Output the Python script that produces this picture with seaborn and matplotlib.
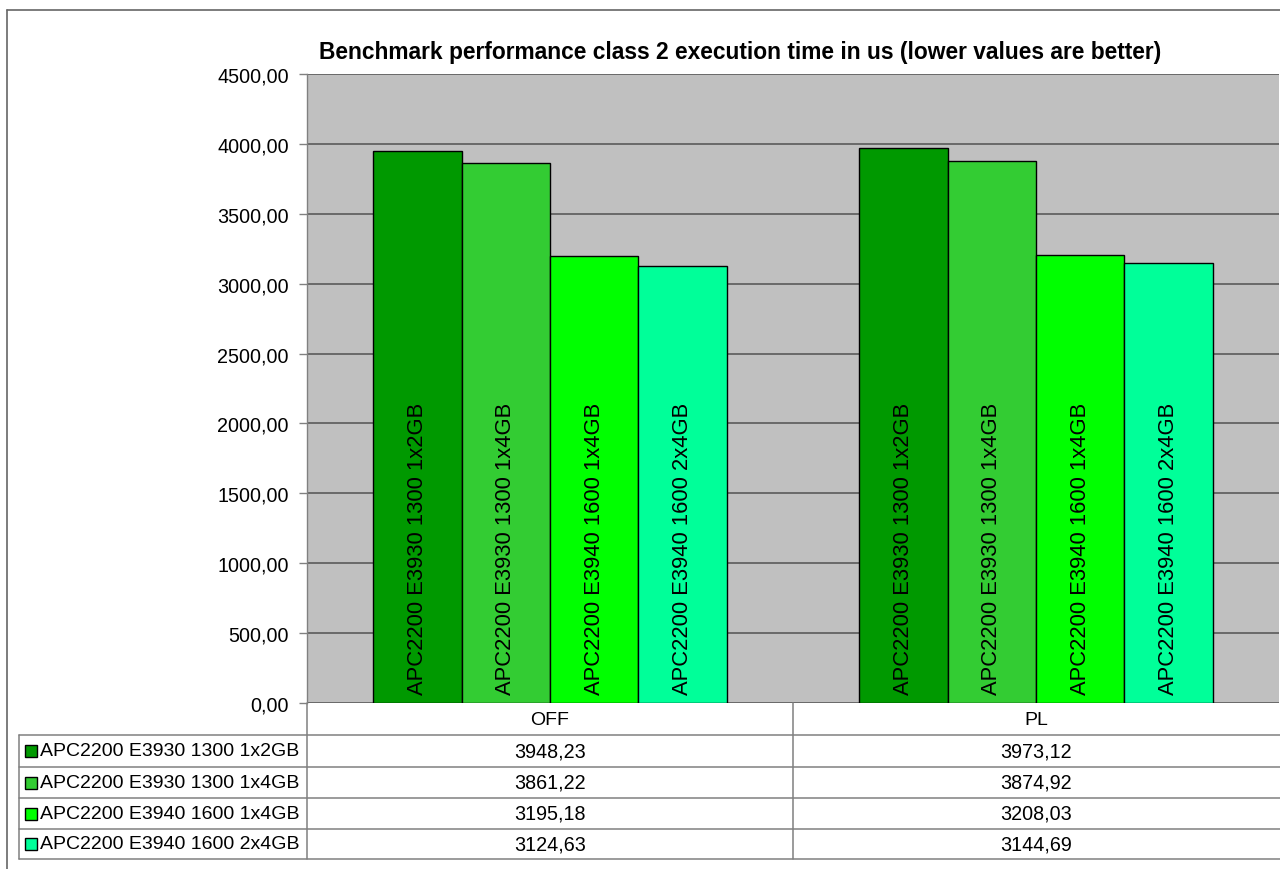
import matplotlib
matplotlib.use("Agg")
import matplotlib.pyplot as plt
import seaborn as sns
import pandas as pd
from matplotlib.ticker import FuncFormatter, MultipleLocator
from matplotlib.lines import Line2D
from matplotlib.patches import Rectangle
import matplotlib.transforms as mtrans

# ---- data ----
categories = ["OFF", "PL"]
series = ["APC2200 E3930 1300 1x2GB", "APC2200 E3930 1300 1x4GB",
          "APC2200 E3940 1600 1x4GB", "APC2200 E3940 1600 2x4GB"]
off_values = [3948.23, 3861.22, 3195.18, 3124.63]
pl_values = [3973.12, 3874.92, 3208.03, 3144.69]
colors = ["#009900", "#33CC33", "#00FF00", "#00FF99"]
title = "Benchmark performance class 2 execution time in us (lower values are better)"

rows = []
for i, s in enumerate(series):
    rows.append({"category": "OFF", "series": s, "value": off_values[i]})
    rows.append({"category": "PL", "series": s, "value": pl_values[i]})
df = pd.DataFrame(rows)

sns.set_style("white")
plt.rcParams["font.family"] = ["Liberation Sans", "DejaVu Sans"]
plt.rcParams["text.color"] = "black"
plt.rcParams["xtick.color"] = "black"
plt.rcParams["ytick.color"] = "black"
plt.rcParams["axes.labelcolor"] = "black"

W, H = 1280, 870
fig = plt.figure(figsize=(W / 100, H / 100), dpi=100)

def fx(px):
    return px / W

def fy(py):
    return 1 - py / H

ax_left, ax_right, ax_top, ax_bot = 307, 1279, 75, 704
ax = fig.add_axes([fx(ax_left), fy(ax_bot), fx(ax_right - ax_left), (ax_bot - ax_top) / H])
ax.set_facecolor("#C0C0C0")

sns.barplot(data=df, x="category", y="value", hue="series", order=categories,
            hue_order=series, palette=colors, width=0.728, edgecolor="black",
            linewidth=1.0, saturation=1, legend=False, ax=ax, zorder=3)

ax.set_xlim(-0.5, 1.5)
ax.set_ylim(0, 4500)
ax.yaxis.set_major_locator(MultipleLocator(500))
ax.yaxis.set_major_formatter(FuncFormatter(lambda v, p: f"{v:.2f}".replace(".", ",")))
ax.grid(axis="y", color="#5a5a5a", linewidth=1.2, zorder=1)
ax.set_axisbelow(True)
ax.set_xlabel("")
ax.set_ylabel("")
for side in ["top", "right", "bottom"]:
    ax.spines[side].set_visible(False)
ax.spines["left"].set_color("#808080")
ax.spines["left"].set_linewidth(1.0)
ax.tick_params(axis="y", length=6, width=1, color="#808080", labelcolor="black",
               labelsize=14.2, pad=7, left=True)
ax.tick_params(axis="x", length=0, labelsize=14, labelcolor="black", pad=6)

# labels inside bars
for cont, name in zip(ax.containers, series):
    for bar in cont:
        ax.text(bar.get_x() + bar.get_width() / 2, 62, name, rotation=90,
                ha="center", va="bottom", fontsize=15.8, color="black", zorder=5)

# title
fig.text(fx(740), fy(53), title, ha="center", va="center", fontsize=16.4,
         fontweight="bold", color="black")

# ---- data table ----
line_c = "#808080"
row_edges = [736, 768, 799, 830, 860]
def hline(y, x0, x1):
    fig.add_artist(Line2D([fx(x0), fx(x1)], [fy(y), fy(y)], color=line_c, lw=1.1))
def vline(x, y0, y1):
    fig.add_artist(Line2D([fx(x), fx(x)], [fy(y0), fy(y1)], color=line_c, lw=1.1))

for y in row_edges:
    hline(y, 19, 1280)
vline(19, 736, 860)
vline(307, 704, 860)
vline(793, 704, 860)

blend = mtrans.blended_transform_factory(ax.transData, fig.transFigure)
all_vals = [off_values, pl_values]
for i, s in enumerate(series):
    yc = (row_edges[i] + row_edges[i + 1]) / 2
    fig.add_artist(Rectangle((fx(25), fy(yc + 6)), fx(12), 12 / H,
                             facecolor=colors[i], edgecolor="black", lw=1))
    fig.text(fx(40), fy(yc), s, ha="left", va="center", fontsize=14.0, color="black")
    for j, cat in enumerate(categories):
        ax.text(j, fy(yc), f"{all_vals[j][i]:.2f}".replace(".", ","),
                transform=blend, ha="center", va="center", fontsize=14.2,
                color="black", clip_on=False)

# outer frame
fig.add_artist(Line2D([fx(7), fx(7)], [fy(11), 0], color="#666666", lw=1.2))
fig.add_artist(Line2D([fx(7), 1], [fy(11), fy(11)], color="#666666", lw=1.2))

fig.savefig("out.png", dpi=100)
